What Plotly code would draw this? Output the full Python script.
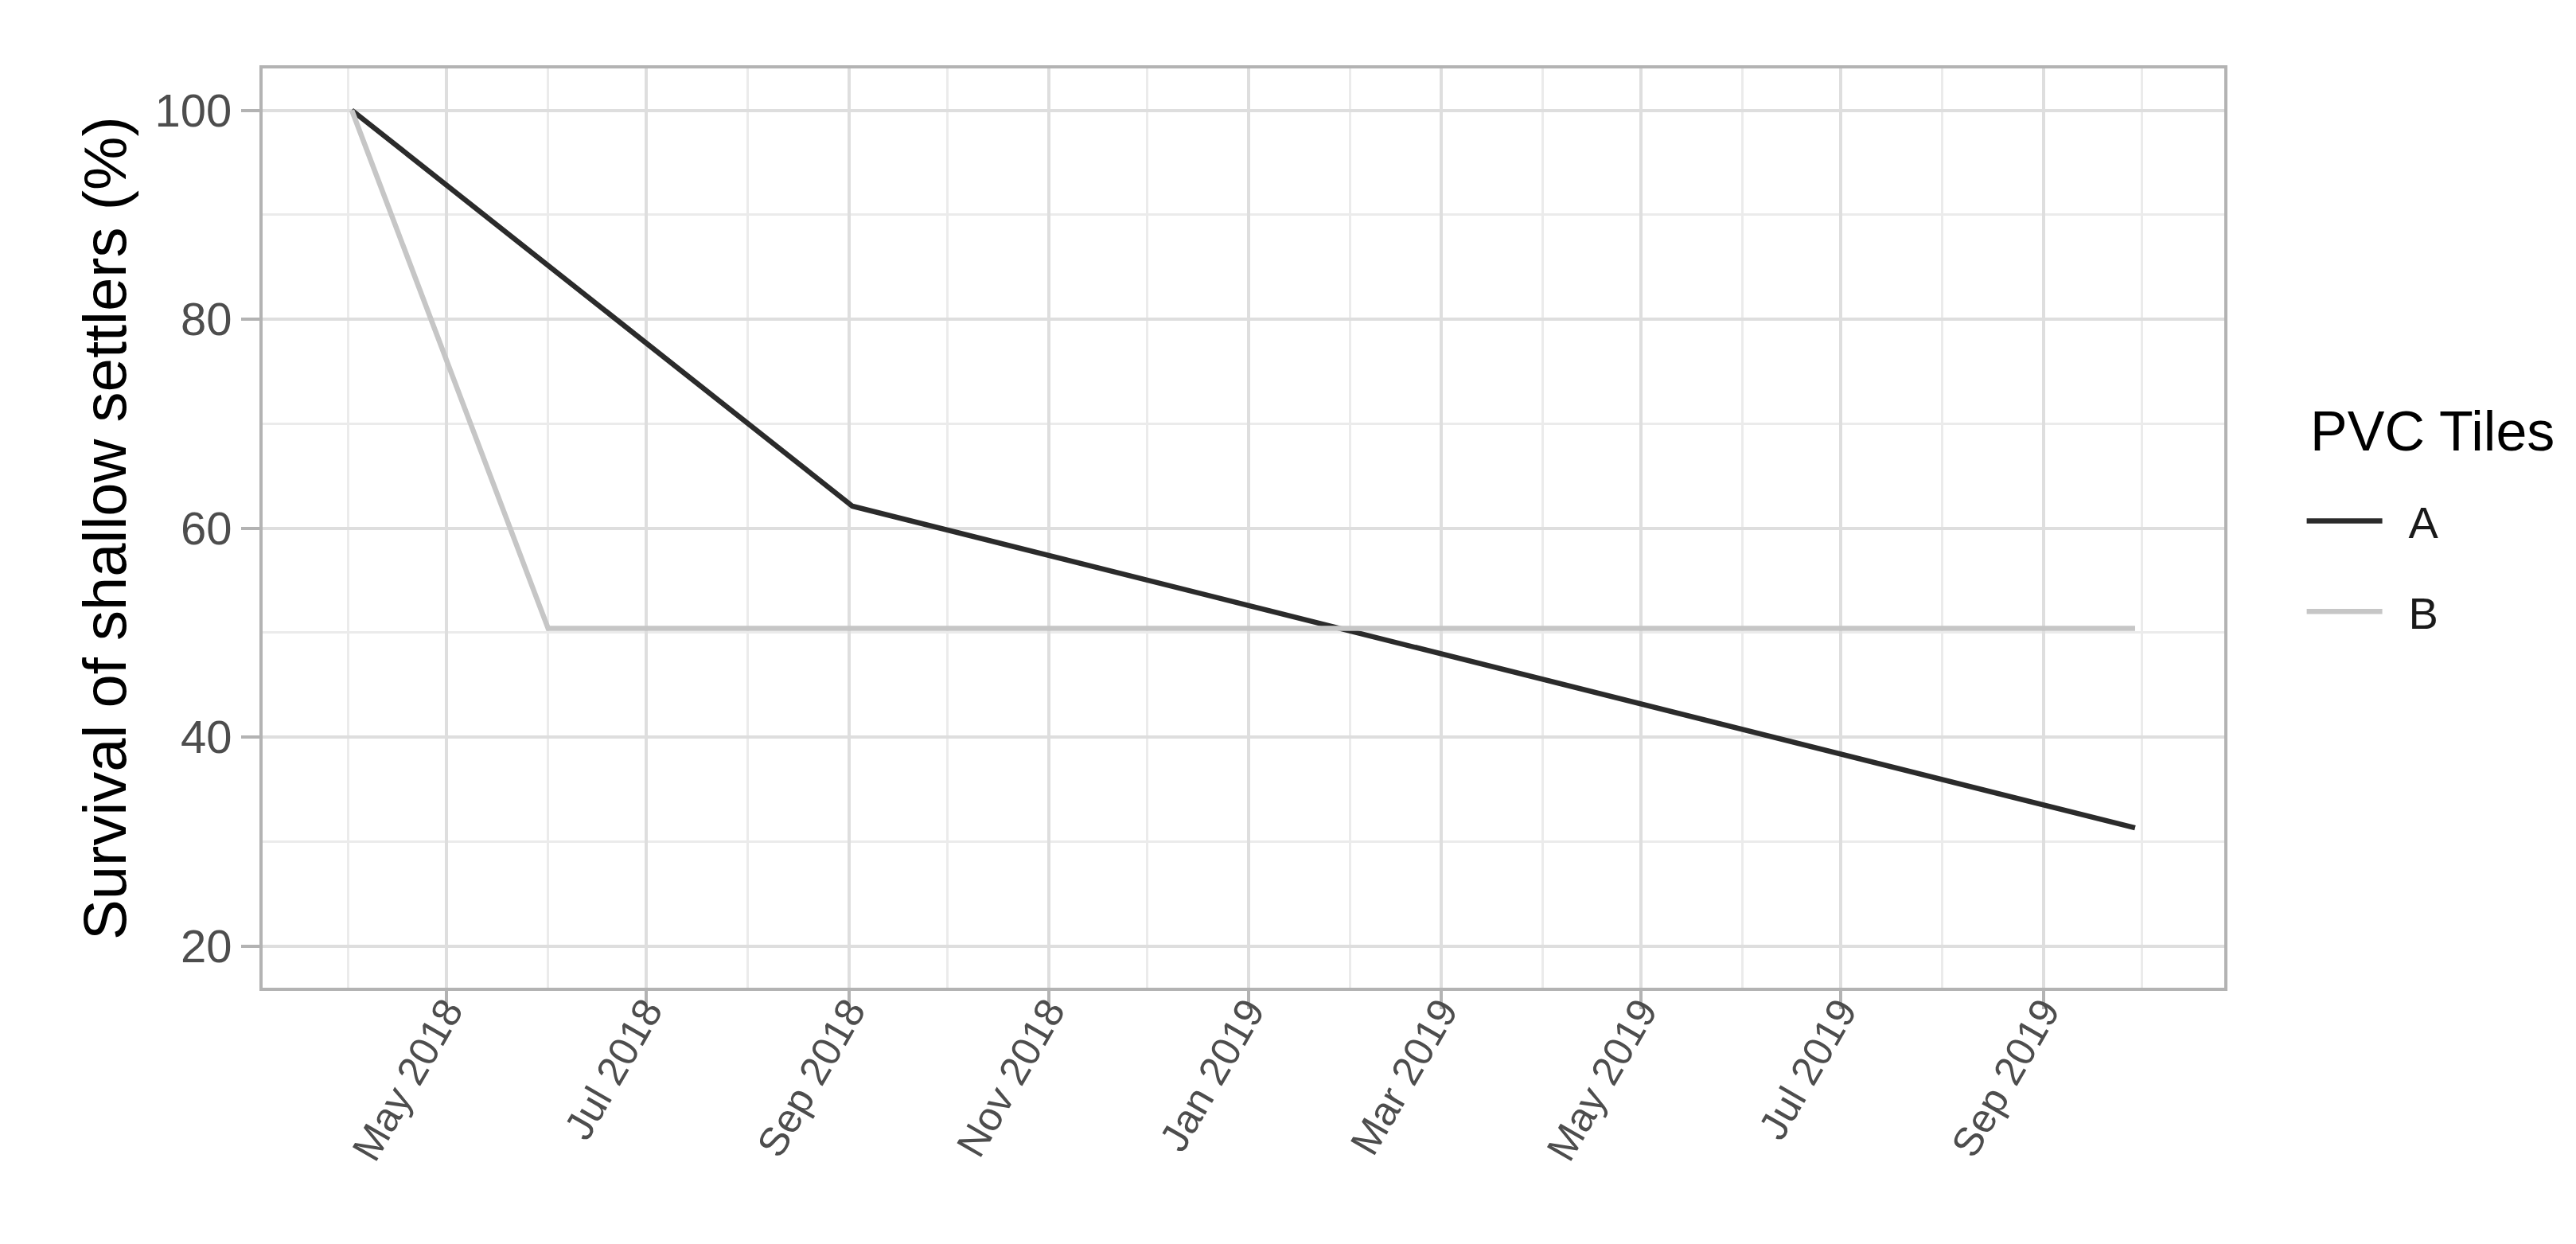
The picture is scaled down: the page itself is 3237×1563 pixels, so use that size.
import pandas as pd
import plotly.graph_objects as go

# Survival of shallow settlers on PVC tiles
dates_a = ["2018-04-02", "2018-09-02", "2019-09-29"]
surv_a = [100.0, 62.1, 31.3]

dates_b = ["2018-04-02", "2018-06-01", "2019-09-29"]
surv_b = [100.0, 50.4, 50.4]

tile_names = ["A", "B"]
COLORS = ["#2b2b2b", "#c6c6c6"]

FONT = "Liberation Sans, Arial, sans-serif"

fig = go.Figure()
for name, x, y, color in zip(tile_names, [dates_a, dates_b], [surv_a, surv_b], COLORS):
    fig.add_trace(
        go.Scatter(
            x=pd.to_datetime(x),
            y=y,
            mode="lines",
            name="\u2002" + name,
            legendgroup=name,
            line=dict(color=color, width=6.5),
        )
    )

# ggplot-like 5% expansion of the date range
all_dates = pd.to_datetime(dates_a + dates_b)
span = all_dates.max() - all_dates.min()
x_range = [all_dates.min() - span * 0.05, all_dates.max() + span * 0.05]

fig.update_layout(
    width=3237,
    height=1563,
    margin=dict(l=322, r=450, t=78, b=330),
    paper_bgcolor="white",
    plot_bgcolor="white",
    font=dict(family=FONT, color="#4d4d4d"),
    legend=dict(
        font=dict(size=56, color="#1a1a1a"),
        x=1.04,
        xanchor="left",
        y=0.545,
        yanchor="top",
        tracegroupgap=38,
        itemwidth=95,
    ),
    annotations=[
        dict(
            text="PVC Tiles",
            xref="paper",
            yref="paper",
            x=1.043,
            y=0.605,
            xanchor="left",
            yanchor="middle",
            showarrow=False,
            font=dict(size=70, color="black", family=FONT),
        )
    ],
)

fig.update_xaxes(
    range=x_range,
    tickformat="%b %Y",
    dtick="M2",
    tick0="2018-05-01",
    tickangle=-60,
    tickfont=dict(size=51, color="#4d4d4d"),
    ticks="outside",
    ticklen=23,
    tickwidth=4,
    tickcolor="#b3b3b3",
    ticklabelstandoff=-48,
    showgrid=True,
    gridcolor="#dedede",
    gridwidth=4,
    minor=dict(dtick="M1", tick0="2018-04-01", showgrid=True, gridcolor="#ebebeb", gridwidth=3),
    showline=True,
    mirror=True,
    linecolor="#b3b3b3",
    linewidth=4,
    zeroline=False,
)

fig.update_yaxes(
    range=[16, 104],
    tickvals=[20, 40, 60, 80, 100],
    tickfont=dict(size=58, color="#4d4d4d"),
    ticks="outside",
    ticklen=23,
    tickwidth=4,
    tickcolor="#b3b3b3",
    showgrid=True,
    gridcolor="#dedede",
    gridwidth=4,
    minor=dict(tickvals=[30, 50, 70, 90], showgrid=True, gridcolor="#ebebeb", gridwidth=3),
    showline=True,
    mirror=True,
    linecolor="#b3b3b3",
    linewidth=4,
    zeroline=False,
    title=dict(text="Survival of shallow settlers (%)", font=dict(size=76, color="black"), standoff=12),
)

fig.write_html("out.html")
